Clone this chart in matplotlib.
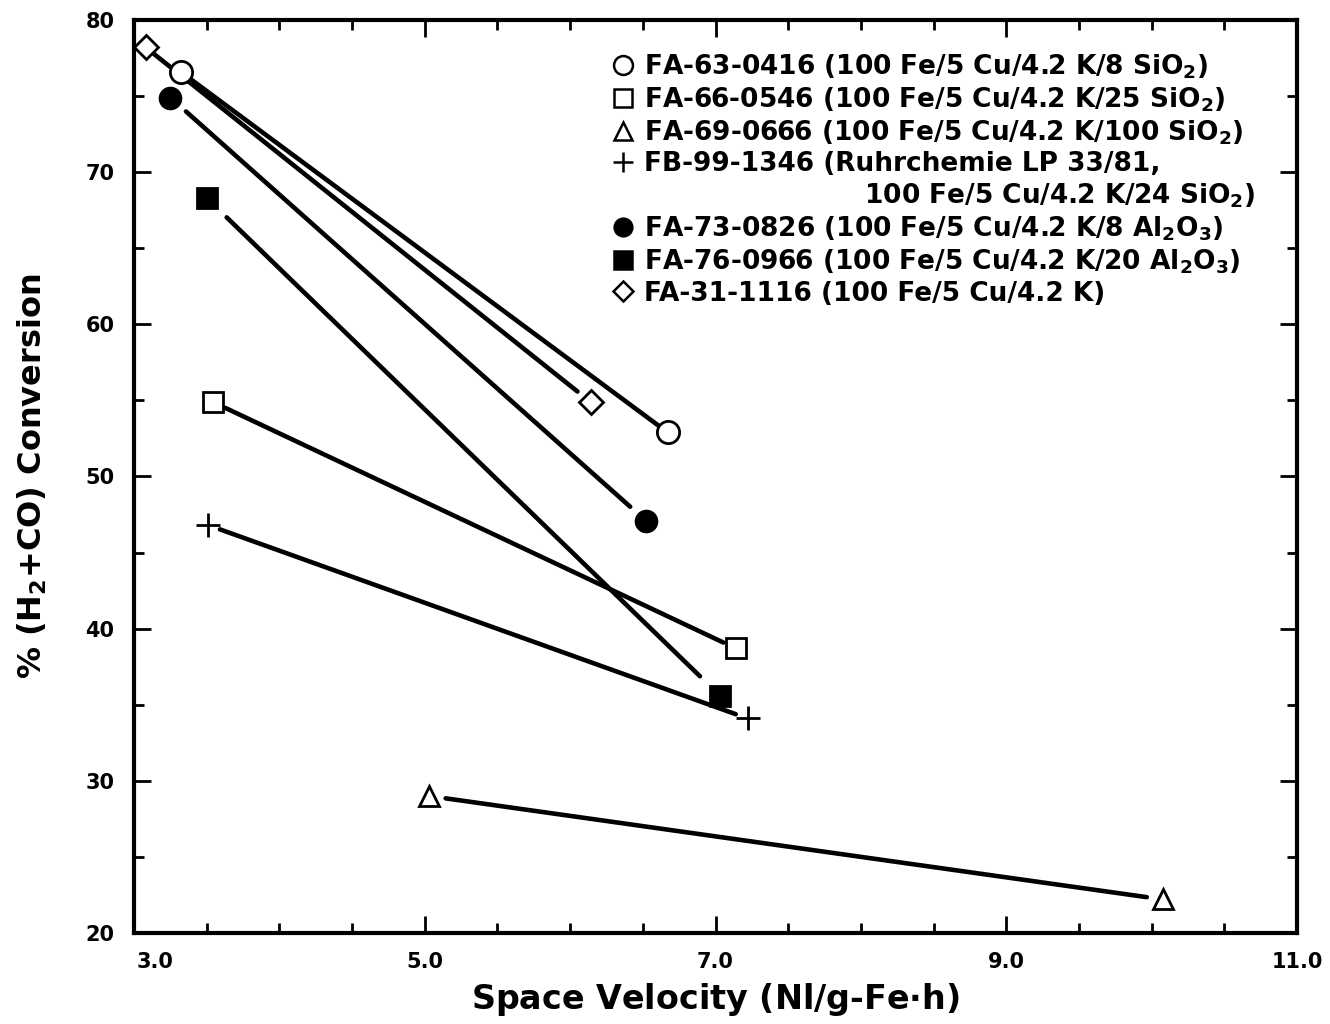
import matplotlib
matplotlib.use("Agg")
import matplotlib.pyplot as plt
from matplotlib.ticker import MultipleLocator, FixedLocator
from matplotlib.lines import Line2D
from matplotlib.transforms import ScaledTranslation

plt.rcParams['font.family'] = ['DejaVu Sans']
plt.rcParams['font.weight'] = 'bold'
plt.rcParams['mathtext.fontset'] = 'dejavusans'
plt.rcParams['mathtext.default'] = 'bf'

# ---- data (space velocity, % conversion) ----
labels = [
    "FA-63-0416 (100 Fe/5 Cu/4.2 K/8 SiO$_2$)",
    "FA-66-0546 (100 Fe/5 Cu/4.2 K/25 SiO$_2$)",
    "FA-69-0666 (100 Fe/5 Cu/4.2 K/100 SiO$_2$)",
    "FB-99-1346 (Ruhrchemie LP 33/81,\n                        100 Fe/5 Cu/4.2 K/24 SiO$_2$)",
    "FA-73-0826 (100 Fe/5 Cu/4.2 K/8 Al$_2$O$_3$)",
    "FA-76-0966 (100 Fe/5 Cu/4.2 K/20 Al$_2$O$_3$)",
    "FA-31-1116 (100 Fe/5 Cu/4.2 K)",
]
sv_63 = [3.32, 6.67];   conv_63 = [76.6, 52.9]
sv_66 = [3.54, 7.14];   conv_66 = [54.9, 38.7]
sv_69 = [5.03, 10.08];  conv_69 = [29.0, 22.2]
sv_99 = [3.51, 7.22];   conv_99 = [46.8, 34.1]
sv_73 = [3.25, 6.52];   conv_73 = [74.9, 47.1]
sv_76 = [3.50, 7.03];   conv_76 = [68.3, 35.6]
sv_31 = [3.08, 6.14];   conv_31 = [78.2, 54.9]

x_ticks = [3.0, 5.0, 7.0, 9.0, 11.0]
x_ticklabels = ['3.0', '5.0', '7.0', '9.0', '11.0']

xs = [sv_63, sv_66, sv_69, sv_99, sv_73, sv_76, sv_31]
ys = [conv_63, conv_66, conv_69, conv_99, conv_73, conv_76, conv_31]

markers = ['o', 's', '^', '+', 'o', 's', 'D']
faces = ['white', 'white', 'white', 'none', 'black', 'black', 'white']
msizes = [16, 15, 15, 17, 15, 15, 12]
shrinks = [(7, 7), (10, 10), (12, 12), (9, 9), (15, 15), (20, 20), (6, 12)]

fig = plt.figure(figsize=(13.3, 10.24), dpi=100)
ax = fig.add_axes([0.1008, 0.0889, 0.8744, 0.8916])

for x, y, sh in zip(xs, ys, shrinks):
    ax.annotate('', xy=(x[1], y[1]), xytext=(x[0], y[0]),
                arrowprops=dict(arrowstyle='-', lw=3.3, color='black',
                                shrinkA=sh[0], shrinkB=sh[1]))

leg_handles, leg_labels = [], []
for x, y, m, fc, ms, lab in zip(xs, ys, markers, faces, msizes, labels):
    ax.plot(x, y, linestyle='none', marker=m, markersize=ms,
            markerfacecolor=fc, markeredgecolor='black', markeredgewidth=2.0,
            zorder=5)
    parts = lab.split('\n')
    leg_handles.append(Line2D([], [], linestyle='none', marker=m, markersize=ms * 0.85,
                              markerfacecolor=fc, markeredgecolor='black',
                              markeredgewidth=1.8))
    leg_labels.append(parts[0])
    for extra in parts[1:]:
        leg_handles.append(Line2D([], [], linestyle='none', marker=None))
        leg_labels.append(extra)

ax.legend(leg_handles, leg_labels, loc='upper right', bbox_to_anchor=(0.978, 0.982),
          frameon=False, fontsize=19, labelspacing=0.17, handletextpad=0.3,
          handlelength=1.0, borderaxespad=0.2)

ax.set_xlim(3.0, 11.0)
ax.set_ylim(20, 80)
ax.xaxis.set_major_locator(FixedLocator(x_ticks))
ax.xaxis.set_minor_locator(MultipleLocator(0.5))
ax.yaxis.set_major_locator(MultipleLocator(10))
ax.yaxis.set_minor_locator(MultipleLocator(5))
ax.set_xticklabels(x_ticklabels)
ax.tick_params(which='both', direction='in', top=True, right=True,
               labelsize=15, width=2)
ax.tick_params(which='major', length=12, pad=14)
ax.tick_params(which='minor', length=7)
for sp in ax.spines.values():
    sp.set_linewidth(3)

first = ax.xaxis.get_major_ticks()[0].label1
first.set_transform(first.get_transform() + ScaledTranslation(15 / 72, 0, fig.dpi_scale_trans))

ax.set_xlabel('Space Velocity (Nl/g-Fe$\\cdot$h)', fontsize=24, fontweight='bold', labelpad=6)
ax.set_ylabel('% (H$_2$+CO) Conversion', fontsize=23, fontweight='bold')
ax.yaxis.set_label_coords(-0.073, 0.5)

fig.savefig('out.png', dpi=100)
